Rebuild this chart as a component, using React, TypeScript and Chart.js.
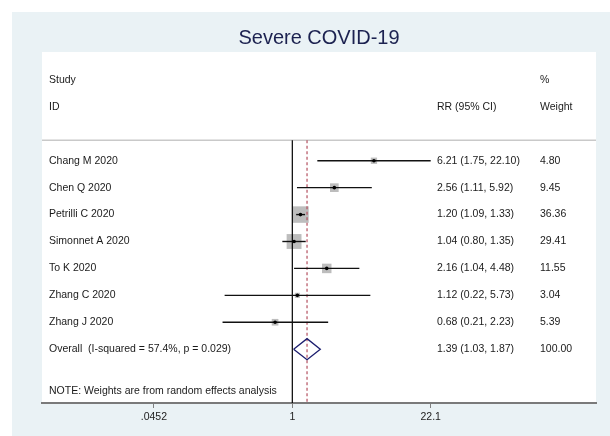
import React, { useEffect, useRef } from "react";
import { Chart, registerables } from "chart.js";

Chart.register(...registerables);

// ---- data ----
const studies = [
  "Chang M 2020",
  "Chen Q 2020",
  "Petrilli C 2020",
  "Simonnet A 2020",
  "To K 2020",
  "Zhang C 2020",
  "Zhang J 2020",
];
const rr = [6.21, 2.56, 1.2, 1.04, 2.16, 1.12, 0.68];
const lower = [1.75, 1.11, 1.09, 0.8, 1.04, 0.22, 0.21];
const upper = [22.1, 5.92, 1.33, 1.35, 4.48, 5.73, 2.23];
const weights = [4.8, 9.45, 36.36, 29.41, 11.55, 3.04, 5.39];
const overallLabel = "Overall  (I-squared = 57.4%, p = 0.029)";
const overallRR = 1.39;
const overallLower = 1.03;
const overallUpper = 1.87;
const overallWeight = 100.0;
const noteText = "NOTE: Weights are from random effects analysis";
const tickValues = [0.0452, 1, 22.1];
const tickLabels = [".0452", "1", "22.1"];
const titleText = "Severe COVID-19";

const FONT = '"Liberation Sans", Arial, sans-serif';
const fmtCI = (e: number, l: number, h: number) =>
  `${e.toFixed(2)} (${l.toFixed(2)}, ${h.toFixed(2)})`;

export default function App() {
  const ref = useRef<HTMLCanvasElement | null>(null);

  useEffect(() => {
    const canvas = ref.current;
    if (!canvas) return;

    const overallRow = studies.length;
    const sepRow = -0.76;
    const lineTop = sepRow;
    const lineBottom = 9;

    const bgPlugin = {
      id: "bg",
      beforeDraw(chart: any) {
        const { ctx, chartArea, width, height } = chart;
        ctx.save();
        ctx.fillStyle = "#ffffff";
        ctx.fillRect(0, 0, width, height);
        ctx.fillStyle = "#eaf2f5";
        ctx.fillRect(12, 12, width - 12, height - 12);
        ctx.fillStyle = "#ffffff";
        ctx.fillRect(
          chartArea.left,
          chartArea.top,
          chartArea.right - chartArea.left,
          chartArea.bottom - chartArea.top
        );
        ctx.restore();
      },
      beforeDatasetsDraw(chart: any) {
        const { ctx, chartArea, scales } = chart;
        const y = scales.y.getPixelForValue(sepRow);
        ctx.save();
        ctx.strokeStyle = "#c9c9c9";
        ctx.lineWidth = 1.5;
        ctx.beginPath();
        ctx.moveTo(chartArea.left, y);
        ctx.lineTo(chartArea.right, y);
        ctx.stroke();
        ctx.restore();
      },
    };

    const textPlugin = {
      id: "texts",
      afterDatasetsDraw(chart: any) {
        const { ctx, chartArea, scales } = chart;
        const ys = scales.y;
        const colStudy = chartArea.left + 7;
        const colCI = chartArea.left + 395;
        const colW = chartArea.left + 498;
        ctx.save();
        ctx.font = `10.5px ${FONT}`;
        ctx.fillStyle = "#1a1a1a";
        ctx.textBaseline = "middle";
        ctx.textAlign = "left";
        const put = (t: string, x: number, row: number) =>
          ctx.fillText(t, x, ys.getPixelForValue(row));
        put("Study", colStudy, -3);
        put("ID", colStudy, -2);
        put("RR (95% CI)", colCI, -2);
        put("%", colW, -3);
        put("Weight", colW, -2);
        studies.forEach((s, i) => {
          put(s, colStudy, i);
          put(fmtCI(rr[i], lower[i], upper[i]), colCI, i);
          put(weights[i].toFixed(2), colW, i);
        });
        put(overallLabel, colStudy, overallRow);
        put(fmtCI(overallRR, overallLower, overallUpper), colCI, overallRow);
        put(overallWeight.toFixed(2), colW, overallRow);
        put(noteText, colStudy, 8.55);
        ctx.restore();
      },
    };

    const ciSets = studies.map((_, i) => ({
      type: "line",
      data: [
        { x: lower[i], y: i },
        { x: upper[i], y: i },
      ],
      borderColor: "#111111",
      borderWidth: 1.4,
      pointRadius: 0,
      tension: 0,
      order: 2,
    }));

    const points = rr.map((v, i) => ({ x: v, y: i }));
    const dh = 0.39;

    const chart = new Chart(canvas, {
      type: "scatter",
      data: {
        datasets: [
          {
            type: "scatter",
            data: points,
            pointStyle: "circle",
            pointRadius: 1.8,
            backgroundColor: "#000000",
            borderWidth: 0,
            order: 1,
          },
          {
            type: "line",
            data: [
              { x: overallLower, y: overallRow },
              { x: overallRR, y: overallRow - dh },
              { x: overallUpper, y: overallRow },
              { x: overallRR, y: overallRow + dh },
              { x: overallLower, y: overallRow },
            ],
            borderColor: "#1b1d6e",
            borderWidth: 1.3,
            pointRadius: 0,
            tension: 0,
            fill: false,
            order: 1,
          },
          ...ciSets,
          {
            type: "line",
            data: [
              { x: 1, y: lineTop },
              { x: 1, y: lineBottom },
            ],
            borderColor: "#000000",
            borderWidth: 1.2,
            pointRadius: 0,
            order: 3,
          },
          {
            type: "line",
            data: [
              { x: overallRR, y: lineTop },
              { x: overallRR, y: lineBottom },
            ],
            borderColor: "#b4505f",
            borderWidth: 1.2,
            borderDash: [3, 2.5],
            pointRadius: 0,
            order: 3,
          },
          {
            type: "scatter",
            data: points,
            pointStyle: "rect",
            pointRadius: (ctx: any) =>
              (2.65 * Math.sqrt(weights[ctx.dataIndex] ?? 1) + 0.5) / Math.SQRT2,
            backgroundColor: "#bdbdbd",
            borderWidth: 0,
            order: 4,
          },
        ] as any,
      },
      options: {
        animation: false,
        responsive: false,
        devicePixelRatio: 1,
        events: [],
        layout: { padding: { left: 42, right: 14, top: 12, bottom: 0 } },
        plugins: {
          legend: { display: false },
          tooltip: { enabled: false },
          title: {
            display: true,
            text: titleText,
            color: "#1c2250",
            font: { family: FONT, size: 20, weight: "normal" },
            padding: { top: 14, bottom: 2 },
          },
        },
        scales: {
          x: {
            type: "logarithmic",
            min: 0.0037,
            max: 892,
            bounds: "data",
            afterBuildTicks: (s: any) => {
              s.ticks = tickValues.map((v) => ({ value: v }));
            },
            afterFit: (s: any) => {
              s.height = 33;
            },
            ticks: {
              autoSkip: false,
              maxRotation: 0,
              padding: 3,
              color: "#222222",
              font: { family: FONT, size: 10.5 },
              callback: (_v: any, i: number) => tickLabels[i],
            },
            grid: {
              display: true,
              drawOnChartArea: false,
              drawTicks: true,
              tickLength: 5,
              color: "#808080",
              lineWidth: 1,
            },
            border: { display: true, color: "#7a7a7a", width: 2 },
          },
          y: {
            type: "linear",
            min: -4.04,
            max: 9.0,
            reverse: true,
            display: false,
          },
        },
      } as any,
      plugins: [bgPlugin, textPlugin],
    });

    return () => chart.destroy();
  }, []);

  return (
    <div style={{ position: "fixed", left: 0, top: 0, width: 610, height: 436 }}>
      <canvas
        ref={ref}
        width={610}
        height={436}
        style={{ display: "block", width: 610, height: 436 }}
      />
    </div>
  );
}
